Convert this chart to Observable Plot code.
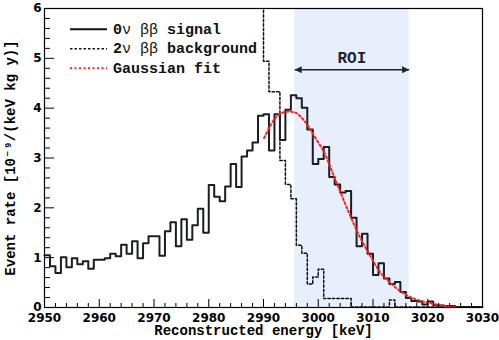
<!DOCTYPE html>
<html><head><meta charset="utf-8">
<script src="https://cdn.jsdelivr.net/npm/d3@7"></script>
<script src="https://cdn.jsdelivr.net/npm/@observablehq/plot@0.6"></script>
<style>body{margin:0;background:#fff}</style>
</head><body><div id="chart"></div>
<script>
// ---- data ----
const signalStart = 2950; // first bin low edge, 1 keV bins
const signal = [1.05,0.83,0.69,1.01,0.81,0.99,0.87,0.93,0.78,0.96,
  0.96,0.99,1.08,1.03,1.26,1.08,1.33,0.99,1.29,1.43,
  1.43,1.04,1.53,1.71,1.23,1.77,1.36,1.65,1.98,1.50,
  2.46,2.22,2.13,2.43,2.88,2.42,3.03,3.15,3.31,3.85,
  3.88,3.15,3.88,3.36,3.97,4.26,4.20,4.01,3.57,2.88,
  2.98,3.22,2.62,2.47,2.31,2.34,1.80,1.23,1.48,1.08,
  0.65,0.89,0.58,0.47,0.51,0.31,0.19,0.13,0.12,0.06,
  0.12,0.05,0.04,0.03,0.03,0.01,0.01,0.01,0.01,0.01];
const backgroundStart = 2986; // bins below 2990 are off scale (> 6)
const background = [16,12,9,7,4.94,4.33,4.33,2.95,2.47,2.18,
  1.25,1.09,0.47,0.61,0.77,0.18,0.18,0.18,0.18,0.18,
  0.01,0.01,0.01,0.01,0.01,0.01,0.01,0.15,0.01,0.01,
  0.01,0.01,0.01,0.01,0.01,0.01,0.01,0.01,0.01,0.01,
  0.01,0.01,0.01,0.01];
const fitEnergy = [2990.1,2991.4,2992.6,2993.8,2994.9,2996.0,2997.2,2998.4,2999.6,3000.9,
  3002.1,3003.9,3005.7,3007.3,3008.8,3010.3,3011.5,3013.3,3015.2,3017.0,
  3018.8,3020.7,3023.1,3025.0];
const fitRate = [3.40,3.68,3.85,3.92,3.93,3.90,3.78,3.60,3.38,3.15,
  2.85,2.35,1.88,1.48,1.17,0.88,0.68,0.48,0.31,0.20,
  0.13,0.08,0.03,0.01];
const roi = [2995.7, 3016.6];
const roiLabel = "ROI";
const xTicksMajor = [2950,2960,2970,2980,2990,3000,3010,3020,3030];
const yTicksMajor = [0,1,2,3,4,5,6];
const xTitle = "Reconstructed energy [keV]";
const yTitle = "Event rate [10\u207B\u2079/(keV kg y)]";
const legendLabels = [["0","\u03BD"," ","\u03B2\u03B2"," signal"],["2","\u03BD"," ","\u03B2\u03B2"," background"],["Gaussian fit"]];

// ---- layout ----
const W = 499, H = 340, mL = 44, mR = 17, mT = 8, mB = 33;
const innerW = W - mL - mR, innerH = H - mT - mB;
const roiArrowY = 4.77, roiLabelY = 5.0;
const xTicksMinor = d3.range(2950, 3031, 2).filter(v => v % 10 !== 0);
const yTicksMinor = d3.range(0, 61, 2).map(v => v / 10).filter(v => !Number.isInteger(v));

function steps(start, vals) {
  const pts = vals.map((v, i) => ({e: start + i, v}));
  pts.push({e: start + vals.length, v: vals[vals.length - 1]});
  return pts;
}
const sigPts = steps(signalStart, signal);
const bkgPts = steps(backgroundStart, background);
const fitPts = fitEnergy.map((e, i) => ({e, v: fitRate[i]}));

const mono = "'Liberation Mono', 'DejaVu Sans Mono', monospace";
const dark = "#1c2430";

const plot = Plot.plot({
  width: W, height: H, marginLeft: mL, marginRight: mR, marginTop: mT, marginBottom: mB,
  style: {fontFamily: "'DejaVu Sans', sans-serif", fontSize: "12px", fontWeight: "bold", color: "#000", background: "#fff", overflow: "visible"},
  x: {domain: [2950, 3030]},
  y: {domain: [0, 6]},
  marks: [
    Plot.rect([roi], {x1: d => d[0], x2: d => d[1], fill: "#e7effc"}),
    Plot.line(bkgPts, {x: "e", y: "v", curve: "step-after", stroke: "#111", strokeWidth: 1.5, strokeDasharray: "2.5,2", clip: true}),
    Plot.line(sigPts, {x: "e", y: "v", curve: "step-after", stroke: "#1a1d22", strokeWidth: 2}),
    Plot.line(fitPts, {x: "e", y: "v", curve: "natural", stroke: "#ff2222", strokeWidth: 2, strokeDasharray: "2,2.5"}),
    Plot.link([roi], {x1: d => d[0], x2: d => d[1], y1: roiArrowY, y2: roiArrowY, stroke: dark, strokeWidth: 1.6}),
    Plot.text([roiLabel], {x: (roi[0] + roi[1]) / 2, y: roiLabelY, fontFamily: mono, fontSize: 16, fontWeight: "bold", fill: dark}),
    Plot.frame({stroke: "#000", strokeWidth: 1.2}),
    Plot.tickX(xTicksMinor, {x: d => d, insetTop: innerH - 4, stroke: "#000"}),
    Plot.tickX(xTicksMajor, {x: d => d, insetTop: innerH - 8, stroke: "#000"}),
    Plot.tickY(yTicksMinor, {y: d => d, insetRight: innerW - 6, stroke: "#000"}),
    Plot.tickY(yTicksMajor, {y: d => d, insetRight: innerW - 10, stroke: "#000"}),
    Plot.axisX({ticks: xTicksMajor, tickSize: 0, tickPadding: 6, tickFormat: "d", label: null}),
    Plot.axisY({ticks: yTicksMajor, tickSize: 0, tickPadding: 3, tickFormat: "d", label: null}),
    Plot.text([xTitle], {frameAnchor: "bottom", textAnchor: "middle", lineAnchor: "middle", dy: 23.5, fontFamily: mono, fontSize: 14, fontWeight: "bold", fill: "#000"}),
    Plot.text([yTitle], {frameAnchor: "left", textAnchor: "middle", lineAnchor: "middle", dx: -33.5, rotate: -90, fontFamily: mono, fontSize: 14, fontWeight: "bold", fill: "#000"})
  ]
});

// arrow heads for the ROI arrow
const svg = d3.select(plot);
const defs = svg.append("defs");
defs.append("marker").attr("id", "roiHead").attr("viewBox", "0 0 10 10")
  .attr("refX", 10).attr("refY", 5).attr("markerWidth", 8).attr("markerHeight", 7)
  .attr("markerUnits", "userSpaceOnUse").attr("orient", "auto-start-reverse")
  .append("path").attr("d", "M0,0L10,5L0,10z").attr("fill", dark);
svg.selectAll('g[aria-label="link"] path').attr("marker-start", "url(#roiHead)").attr("marker-end", "url(#roiHead)");

// legend (inside the frame, top-left)
const legendStyles = [
  {stroke: "#111", dash: null, width: 2},
  {stroke: "#111", dash: "2.5,2", width: 1.5},
  {stroke: "#ff2222", dash: "2,2.5", width: 2}
];
const lg = svg.append("g").attr("text-anchor", "start");
legendLabels.forEach((parts, i) => {
  const y = 29.3 + i * 19.5;
  const st = legendStyles[i];
  lg.append("line").attr("x1", 70).attr("x2", 107).attr("y1", y).attr("y2", y)
    .attr("stroke", st.stroke).attr("stroke-width", st.width).attr("stroke-dasharray", st.dash);
  const t = lg.append("text").attr("x", 113).attr("y", y + 4.6).attr("text-anchor", "start")
    .attr("font-family", mono).attr("font-size", 15).attr("fill", "#111")
    .style("white-space", "pre");
  parts.forEach(p => {
    const greek = /[\u0370-\u03FF]/.test(p);
    t.append("tspan").attr("font-weight", greek ? "normal" : "bold").text(p);
  });
});

document.getElementById("chart").appendChild(plot);
</script>
</body></html>
